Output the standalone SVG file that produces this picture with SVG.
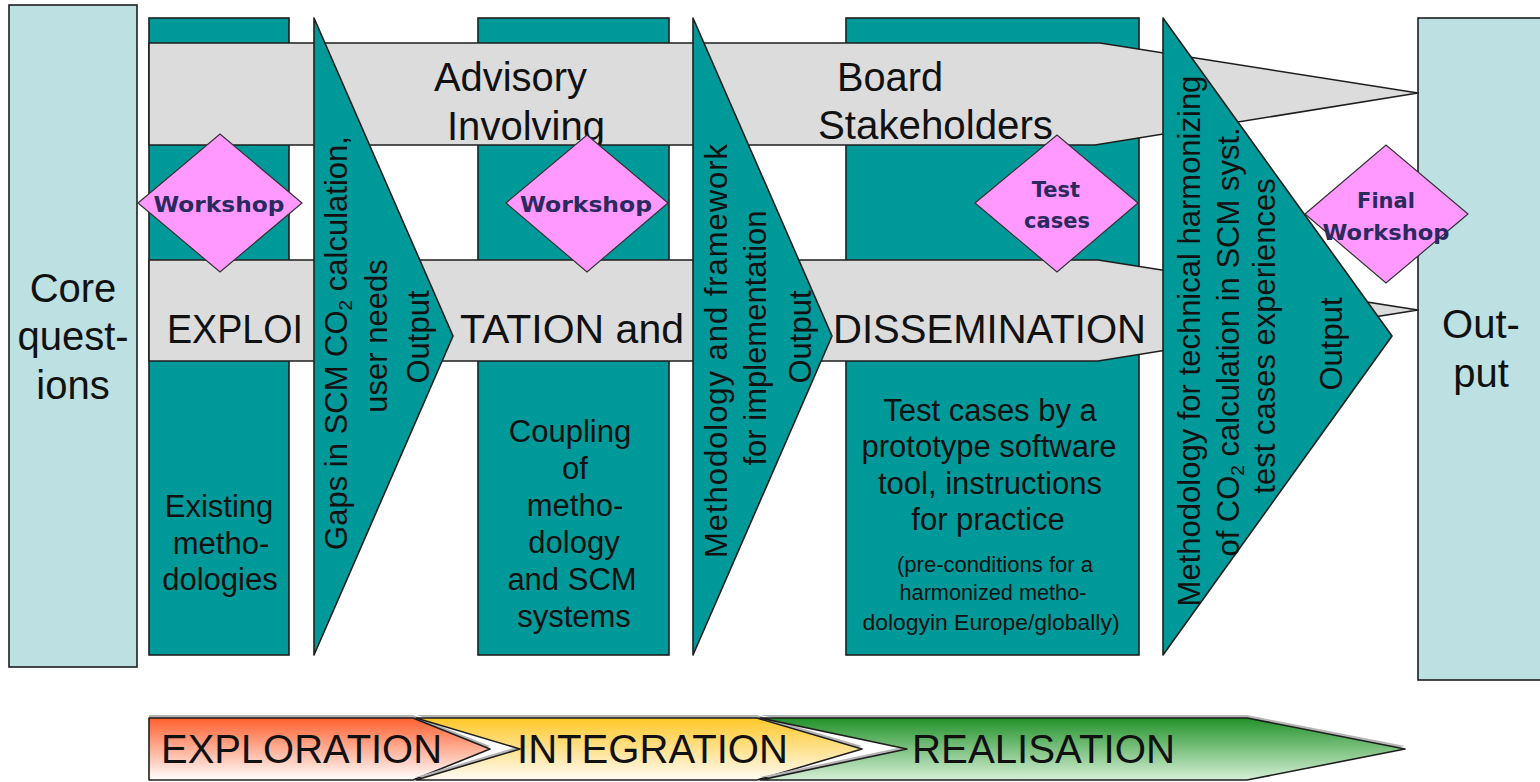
<svg xmlns="http://www.w3.org/2000/svg" width="1540" height="782" viewBox="0 0 1540 782">
<style>
.box{fill:#BDE0E3;stroke:#1e1e1e;stroke-width:1.6}
.col{fill:#009999;stroke:#1e1e1e;stroke-width:1.6}
.band{fill:#DCDCDC;stroke:#1e1e1e;stroke-width:1.6;stroke-linejoin:round}
.tri{fill:#009999;stroke:#1e1e1e;stroke-width:1.6;stroke-linejoin:round}
.dia{fill:#FF99FF;stroke:#333333;stroke-width:1.2}
.phase{stroke:#1e1e1e;stroke-width:1.6;stroke-linejoin:round}
.shadow{fill:#b5b5b5}
.t{font-family:"Liberation Sans",Arial,sans-serif;fill:#111111}
.big{font-size:40px}
.mid{font-size:31px}
.sm{font-size:21.5px}
.c{text-anchor:middle}
.d{font-family:"DejaVu Sans",Verdana,sans-serif;font-weight:bold;font-size:21px;fill:#2a2a5e;text-anchor:middle}
</style>
<defs>
<linearGradient id="gRed" x1="0" y1="0" x2="0" y2="1"><stop offset="0" stop-color="#FF5F2E"/><stop offset="1" stop-color="#FFFFFF"/></linearGradient>
<linearGradient id="gOra" x1="0" y1="0" x2="0" y2="1"><stop offset="0" stop-color="#FFC828"/><stop offset="1" stop-color="#FFFBF5"/></linearGradient>
<linearGradient id="gGrn" x1="0" y1="0" x2="0" y2="1"><stop offset="0" stop-color="#22922A"/><stop offset="1" stop-color="#D6F0D6"/></linearGradient>
</defs>
<rect width="1540" height="782" fill="#FFFFFF"/>

<g id="core-questions">
<rect class="box" x="9" y="5" width="128" height="662"/>
<text class="t big c" x="73" y="302">Core</text>
<text class="t big c" x="73" y="350">quest-</text>
<text class="t big c" x="73" y="399">ions</text>
</g>

<g id="output">
<rect class="box" x="1418" y="18" width="130" height="662"/>
<text class="t big c" x="1481" y="338">Out-</text>
<text class="t big c" x="1481" y="387">put</text>
</g>

<g id="col-existing">
<rect class="col" x="149" y="18" width="140" height="637"/>
<text class="t mid c" x="219" y="517">Existing</text>
<text class="t mid c" x="221" y="554">metho-</text>
<text class="t mid c" x="220" y="590">dologies</text>
</g>

<g id="col-coupling">
<rect class="col" x="478" y="18" width="191" height="637"/>
<text class="t mid c" x="570" y="442">Coupling</text>
<text class="t mid c" x="575" y="479">of</text>
<text class="t mid c" x="575" y="516">metho-</text>
<text class="t mid c" x="574" y="553">dology</text>
<text class="t mid c" x="572" y="590">and SCM</text>
<text class="t mid c" x="574" y="627">systems</text>
</g>

<g id="col-testcases">
<rect class="col" x="846" y="18" width="293" height="637"/>
<text class="t mid c" x="990" y="421">Test cases by a</text>
<text class="t mid c" x="989" y="457">prototype software</text>
<text class="t mid c" x="990" y="494">tool, instructions</text>
<text class="t mid c" x="988" y="530">for practice</text>
<text class="t sm c" x="995" y="572" textLength="196" lengthAdjust="spacingAndGlyphs">(pre-conditions for a</text>
<text class="t sm c" x="993" y="600" textLength="187" lengthAdjust="spacingAndGlyphs">harmonized metho-</text>
<text class="t sm c" x="991" y="630" textLength="257" lengthAdjust="spacingAndGlyphs">dologyin Europe/globally)</text>
</g>

<g id="band-advisory">
<path class="band" d="M149,43 H1100 L1418,93 L1095,145 H149 Z"/>
<text class="t big" x="434" y="91" textLength="153" lengthAdjust="spacingAndGlyphs">Advisory</text>
<text class="t big" x="447" y="140" textLength="158" lengthAdjust="spacingAndGlyphs">Involving</text>
<text class="t big" x="837" y="91" textLength="106" lengthAdjust="spacingAndGlyphs">Board</text>
<text class="t big" x="818" y="139" textLength="235" lengthAdjust="spacingAndGlyphs">Stakeholders</text>
</g>

<g id="band-exploitation">
<path class="band" d="M149,260 H1098 L1418,310 L1098,361 H149 Z"/>
<text class="t big" x="167" y="343" textLength="136" lengthAdjust="spacingAndGlyphs">EXPLOI</text>
<text class="t big" x="460" y="343" textLength="224" lengthAdjust="spacingAndGlyphs">TATION and</text>
<text class="t big" x="833" y="343" textLength="313" lengthAdjust="spacingAndGlyphs">DISSEMINATION</text>
</g>

<g id="output-gaps">
<polygon class="tri" points="314,18 453,336 314,655"/>
<text class="t mid c" transform="translate(347,343) rotate(-90)">Gaps in SCM CO<tspan font-size="19" dy="5">2</tspan><tspan dy="-5"> calculation,</tspan></text>
<text class="t mid c" transform="translate(387,336) rotate(-90)">user needs</text>
<text class="t mid c" transform="translate(429,337) rotate(-90)">Output</text>
</g>

<g id="output-methodology">
<polygon class="tri" points="693,18 832,336 693,655"/>
<text class="t mid c" transform="translate(727,351) rotate(-90)" textLength="414" lengthAdjust="spacing">Methodology and framework</text>
<text class="t mid c" transform="translate(766,338) rotate(-90)">for implementation</text>
<text class="t mid c" transform="translate(811,337) rotate(-90)">Output</text>
</g>

<g id="output-harmonizing">
<polygon class="tri" points="1163,18 1392,336 1163,655"/>
<text class="t mid c" transform="translate(1200,341) rotate(-90)">Methodology for technical harmonizing</text>
<text class="t mid c" transform="translate(1239,342) rotate(-90)">of CO<tspan font-size="19" dy="5">2</tspan><tspan dy="-5"> calculation in SCM syst.</tspan></text>
<text class="t mid c" transform="translate(1275,336) rotate(-90)">test cases experiences</text>
<text class="t mid c" transform="translate(1342,344) rotate(-90)">Output</text>
</g>

<g id="workshop-1">
<polygon class="dia" points="138,203 220,134 302,203 220,272"/>
<text class="d" x="219" y="212" textLength="131" lengthAdjust="spacingAndGlyphs">Workshop</text>
</g>

<g id="workshop-2">
<polygon class="dia" points="506,203 587,135 668,203 587,272"/>
<text class="d" x="586" y="212" textLength="132" lengthAdjust="spacingAndGlyphs">Workshop</text>
</g>

<g id="test-cases">
<polygon class="dia" points="975,203 1057,135 1138,203 1057,272"/>
<text class="d" x="1056" y="197">Test</text>
<text class="d" x="1057" y="228">cases</text>
</g>

<g id="final-workshop">
<polygon class="dia" points="1305,214 1386,145 1468,214 1386,283"/>
<text class="d" x="1386" y="208">Final</text>
<text class="d" x="1386" y="240" textLength="127" lengthAdjust="spacingAndGlyphs">Workshop</text>
</g>

<g id="phase-exploration">
<polygon class="shadow" points="149,715 413,715 490,746 413,777 149,777"/>
<polygon class="phase" fill="url(#gRed)" points="149,718 413,718 490,749 413,780 149,780"/>
<text class="t big" x="161" y="763" textLength="281" lengthAdjust="spacingAndGlyphs">EXPLORATION</text>
</g>

<g id="phase-integration">
<polygon class="shadow" points="416,715 757,715 862,746 757,777 416,777 520,746"/>
<polygon class="phase" fill="url(#gOra)" points="416,718 757,718 862,749 757,780 416,780 520,749"/>
<text class="t big" x="517" y="763" textLength="271" lengthAdjust="spacingAndGlyphs">INTEGRATION</text>
</g>

<g id="phase-realisation">
<polygon class="shadow" points="760,715 1247,715 1405,746 1247,777 760,777 907,746"/>
<polygon class="phase" fill="url(#gGrn)" points="760,718 1247,718 1405,749 1247,780 760,780 907,749"/>
<text class="t big" x="912" y="763" textLength="263" lengthAdjust="spacingAndGlyphs">REALISATION</text>
</g>

<g id="connectors"/>
</svg>
